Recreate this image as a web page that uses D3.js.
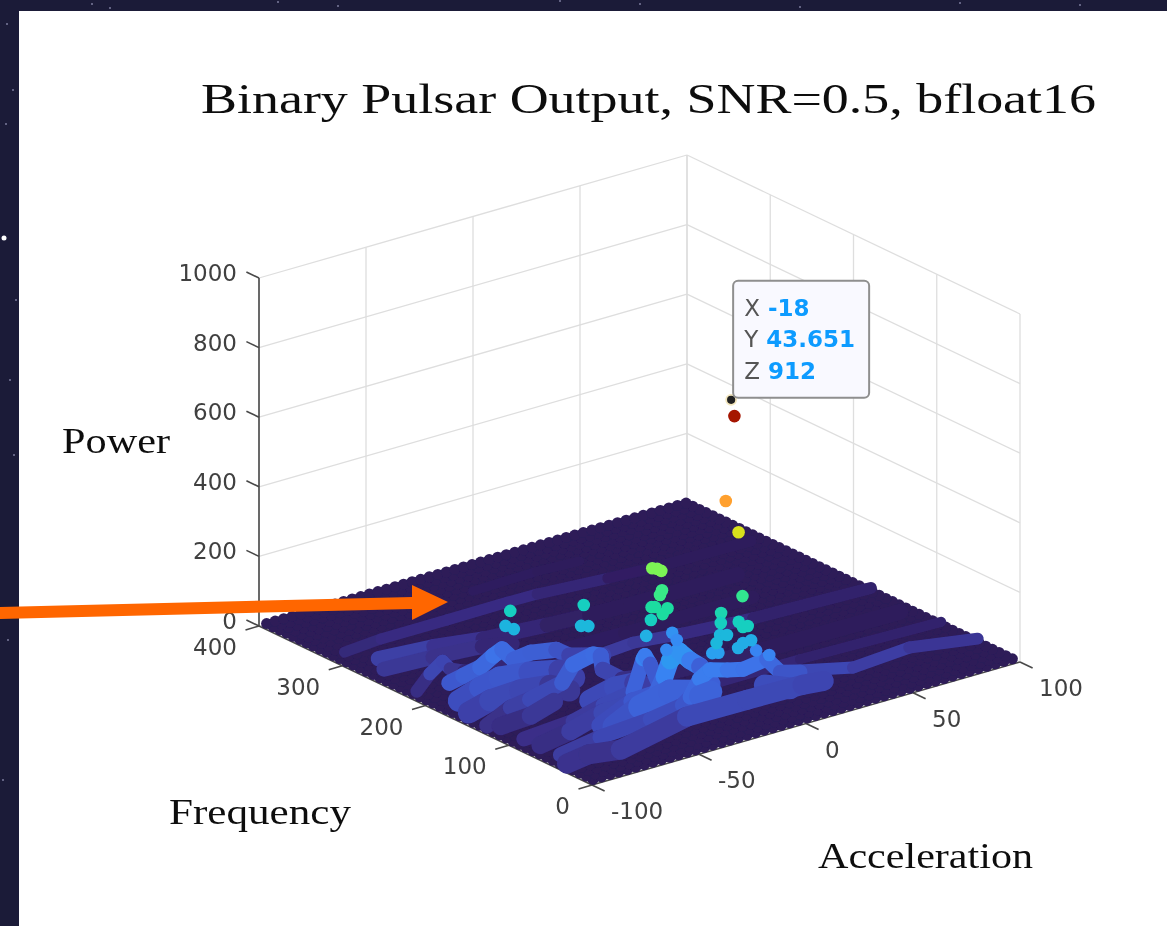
<!DOCTYPE html>
<html>
<head>
<meta charset="utf-8">
<script src="https://cdn.jsdelivr.net/npm/d3@7"></script>
<style>
  html, body { margin: 0; padding: 0; background: #fff; }
  svg { display: block; }
  .title { font-family: "Liberation Serif", serif; fill: #111; }
  .tick { font-family: "DejaVu Sans", sans-serif; font-size: 23px; fill: #404040; }
  .tip { font-family: "DejaVu Sans", sans-serif; font-size: 23px; }
</style>
</head>
<body>
<svg id="chart" width="1167" height="926"></svg>
<script>
const powerTicks = [0, 200, 400, 600, 800, 1000]
const freqTicks = [0, 100, 200, 300, 400]
const accelTicks = [-100, -50, 0, 50, 100]

// the sheet of points that sits near zero power
const floorAccel = [-98, -94, -90, -86, -82, -78, -74, -70, -66, -62, -58, -54, -50, -46, -42, -38, -34, -30, -26, -22, -18, -14, -10, -6, -2, 2, 6, 10, 14, 18, 22, 26, 30, 34, 38, 42, 46, 50, 54, 58, 62, 66, 70, 74, 78, 82, 86, 90, 94, 98]
const floorFreq = [4, 12, 20, 28, 36, 44, 52, 60, 68, 76, 84, 92, 100, 108, 116, 124, 132, 140, 148, 156, 164, 172, 180, 188, 196, 204, 212, 220, 228, 236, 244, 252, 260, 268, 276, 284, 292, 300, 308, 316, 324, 332, 340, 348, 356, 364, 372, 380, 388, 396]
const floorPower = 8

// ridges of constant frequency, back to front
const ridgeFreq = [349, 305, 262, 250, 218, 174, 174, 160, 148, 131, 120, 105, 87, 87, 75, 62, 50, 38, 38, 34, 34, 30]
const ridgeAccel = [
  [-20, 10, 30],
  [-97, -80, -49, -21, -7, 26, 50, 93],
  [-98, -72, -49, -19, 1, 20, 70],
  [-100, -77, -54, -40],
  [-97, -91, -85, -81.5, -75, -50, 0, 60],
  [-27, -13, 10, 43, 98],
  [-99, -92.5, -84.6, -78.5, -74.3, -69, -61, -49, -43, -27],
  [-100, -90, -81, -67, -53, -46],
  [-100, -90, -76, -62, -53],
  [-98, -87, -78, -63, -58, -48.6, -45, -44, -35, -20, 30, 95],
  [-96, -82, -71],
  [-60, -48.4, -39, -30],
  [-16, 31, 97],
  [-98, -75, -61, -47, -42.3, -41.4, -39, -34, -16],
  [-95, -81, -66, -53, -40],
  [-72, -57, -45.5, -42, -39.4, -35, -30, -25.4, -20],
  [-70, -58, -44, -32.4],
  [12, 36.7, 63, 95],
  [-100, -81.5, -58, -43, -39.4, -35, -30, -22, -14.5, -3.6, 2.7, 12],
  [-36.3, -31],
  [-6, 5.7],
  [-100, -90, -75, -44, -16, 10, 20]
]
const ridgePower = [
  [14, 18, 12],
  [28, 36, 36, 37, 36, 23, 15, 12],
  [66, 55, 36, 23, 17, 13, 11],
  [53, 47, 37, 20],
  [18, 57, 83, 55, 37, 20, 14, 11],
  [52, 58, 43, 29, 19],
  [100, 109, 119, 142, 153, 114, 120, 107, 80, 52],
  [75, 95, 108, 98, 79, 46],
  [55, 72, 76, 65, 35],
  [25, 57, 65, 86, 129, 142, 132, 90, 46, 30, 14, 11],
  [35, 40, 61],
  [68, 85, 80, 40],
  [30, 29, 20],
  [35, 45, 67, 80, 167, 175, 146, 66, 30],
  [30, 45, 72, 74, 60],
  [60, 103, 106, 148, 190, 208, 173, 148, 89],
  [76, 112, 131, 110],
  [89, 54, 65, 34],
  [49, 67, 77, 91, 108, 152, 170, 155, 144, 154, 105, 89],
  [120, 123],
  [97, 68],
  [40, 49, 36, 76, 75, 72, 66]
]
// line weight of each ridge, how many neighbouring bins it stands for
const ridgeWeight = [9, 11, 15, 15, 13, 12, 16, 22, 22, 16, 18, 22, 10, 15, 18, 18, 24, 12, 15, 22, 22, 20]

// isolated strong detections above the ridges
const peakAccel = [-15, -7, -17, -35, -34, -34, -35, -38.5, -42, -41, -38, -43, -41.5, -42, -24, -25, -34, -13, -21, -23, -22, -20, -28, -29, -27, -17, -17, -19, -13, -17, -21.5, -6, -5, -77, -78, -77.5, -52, -57, -55]
const peakFreq = [57.8, 63, 42.3, 94.7, 91.3, 86.4, 83, 76.4, 77.5, 76.2, 68.7, 61.6, 79.6, 84, 99, 91, 80.3, 42.9, 48, 43.2, 46.6, 43.5, 35.5, 38, 35.8, 37.1, 26.3, 27, 32.5, 31.9, 26.3, 44.5, 31.3, 157.3, 160.5, 151.7, 133.3, 123.6, 120]
const peakPower = [600, 490, 865, 400, 400, 400, 350, 350, 320, 320, 320, 320, 280, 230, 190, 180, 180, 340, 300, 280, 240, 240, 240, 210, 210, 280, 280, 280, 225, 225, 225, 170, 170, 280, 235, 235, 280, 240, 240]

const selectedAccel = -18
const selectedFreq = 43.651
const selectedPower = 912

const colorStops = [0, 15, 40, 70, 110, 150, 175, 210, 240, 280, 320, 350, 400, 490, 600, 865, 912]
const colorRange = ['#2c1a55', '#2e1c5c', '#3a2f88', '#3d46b2', '#3e5cd2', '#3c74ea', '#3888f4', '#2aa0f0', '#1cb8dc', '#17cfc0', '#1fdca0', '#38ea88', '#7cf455', '#d8e01f', '#ffa02e', '#a51200', '#222222']

const titleText = 'Binary Pulsar Output, SNR=0.5, bfloat16'

// faint stars of the slide background behind the white panel
const starX = [92, 110, 278, 338, 560, 640, 800, 960, 1080, 7, 13, 6, 16, 4, 10, 14, 8, 3]
const starY = [4, 8, 2, 6, 1, 4, 7, 3, 5, 24, 90, 124, 300, 238, 380, 455, 640, 780]

/** Orthographic view of the box: each data axis adds its own screen offset */
const originX = 592
const originY = 785
const accelToX = d3.scaleLinear([-100, 100], [0, 428])
const accelToY = d3.scaleLinear([-100, 100], [0, -123])
const freqToX = d3.scaleLinear([0, 400], [0, -333])
const freqToY = d3.scaleLinear([0, 400], [0, -159])
const powerToY = d3.scaleLinear([0, 1000], [0, -348])
const color = d3.scaleLinear().domain(colorStops).range(colorRange)

const px = (a, f) => originX + accelToX(a) + freqToX(f)
const py = (a, f, z) => originY + accelToY(a) + freqToY(f) + powerToY(z)

const svg = d3.select('#chart')

svg.append('rect').attr('width', 1167).attr('height', 926).attr('fill', '#1b1b38')
svg.selectAll('circle.star').data(starX).enter().append('circle')
  .attr('class', 'star')
  .attr('cx', d => d)
  .attr('cy', (d, i) => starY[i])
  .attr('r', (d, i) => starY[i] === 238 ? 2.5 : 1)
  .attr('fill', (d, i) => starY[i] === 238 ? '#fff' : '#7d7d9c')
svg.append('rect').attr('x', 19).attr('y', 11).attr('width', 1148).attr('height', 915).attr('fill', '#fff')

const defs = svg.append('defs')
defs.append('filter').attr('id', 'soft').attr('x', 0).attr('y', 0).attr('width', 1).attr('height', 1)
  .attr('filterUnits', 'objectBoundingBox')
  .append('feGaussianBlur').attr('stdDeviation', 0.55)

const g = svg.append('g').attr('filter', 'url(#soft)')

/* Back walls */
const grid = g.append('g').attr('stroke', '#dedede').attr('stroke-width', 1.3).attr('fill', 'none')
const wallLine = (a1, f1, z1, a2, f2, z2) => grid.append('line')
  .attr('x1', px(a1, f1)).attr('y1', py(a1, f1, z1))
  .attr('x2', px(a2, f2)).attr('y2', py(a2, f2, z2))
powerTicks.forEach(z => {
  wallLine(-100, 400, z, 100, 400, z)
  wallLine(100, 400, z, 100, 0, z)
})
accelTicks.forEach(a => wallLine(a, 400, 0, a, 400, 1000))
freqTicks.forEach(f => wallLine(100, f, 0, 100, f, 1000))

/* Axis lines and ticks */
const axes = g.append('g').attr('stroke', '#484848').attr('stroke-width', 1.6).attr('fill', 'none')
const axisLine = (x1, y1, x2, y2) => axes.append('line').attr('x1', x1).attr('y1', y1).attr('x2', x2).attr('y2', y2)
axisLine(px(-100, 400), py(-100, 400, 0), px(-100, 400), py(-100, 400, 1000))
axisLine(px(-100, 400), py(-100, 400, 0), px(-100, 0), py(-100, 0, 0))
axisLine(px(-100, 0), py(-100, 0, 0), px(100, 0), py(100, 0, 0))

powerTicks.forEach(z => {
  const x = px(-100, 400)
  const y = py(-100, 400, z)
  axisLine(x, y, x - 12.6, y - 6)
  g.append('text').attr('class', 'tick').attr('x', x - 22).attr('y', y + 3).attr('text-anchor', 'end').text(z)
})
freqTicks.forEach(f => {
  const x = px(-100, f)
  const y = py(-100, f, 0)
  axisLine(x, y, x - 13.5, y + 3.9)
  g.append('text').attr('class', 'tick').attr('x', x - 22).attr('y', y + 29).attr('text-anchor', 'end').text(f)
})
accelTicks.forEach(a => {
  const x = px(a, 0)
  const y = py(a, 0, 0)
  axisLine(x, y, x + 12.6, y + 6)
  g.append('text').attr('class', 'tick').attr('x', x + 19).attr('y', y + 34).text(a)
})

/* Floor sheet */
const floorColor = color(floorPower)
const sheet = g.append('g')
const fMin = d3.min(floorFreq)
const fMax = d3.max(floorFreq)
const aMin = d3.min(floorAccel)
const aMax = d3.max(floorAccel)
sheet.append('polygon').attr('fill', floorColor)
  .attr('stroke', floorColor).attr('stroke-width', 7).attr('stroke-linejoin', 'round')
  .attr('points', [[aMin, fMin], [aMax, fMin], [aMax, fMax], [aMin, fMax]]
    .map(c => px(c[0], c[1]) + ',' + py(c[0], c[1], floorPower)).join(' '))
floorFreq.forEach(f => {
  sheet.append('g').selectAll('circle').data(floorAccel).enter().append('circle')
    .attr('cx', a => px(a, f))
    .attr('cy', a => py(a, f, floorPower))
    .attr('r', 5.5)
    .attr('fill', floorColor)
})

/* Ridges: neighbouring points joined, so that they read as a run of touching dots.
   A heavy ridge grows towards the viewer, its top edge stays where the dots are */
const ridges = g.append('g').attr('stroke-linecap', 'round')
ridgeFreq.forEach((f, i) => {
  const accel = ridgeAccel[i]
  const power = ridgePower[i]
  const weight = ridgeWeight[i]
  const row = ridges.append('g').attr('transform', `translate(0,${(weight - 11) / 2})`)
  d3.pairs(d3.range(accel.length)).forEach(([p, q]) => {
    row.append('line')
      .attr('x1', px(accel[p], f)).attr('y1', py(accel[p], f, power[p]))
      .attr('x2', px(accel[q], f)).attr('y2', py(accel[q], f, power[q]))
      .attr('stroke', color((power[p] + power[q]) / 2))
      .attr('stroke-width', weight)
  })
})

/* Strong peaks, far ones first */
const peakOrder = d3.range(peakAccel.length).sort((p, q) => peakFreq[q] - peakFreq[p])
g.append('g').selectAll('circle').data(peakOrder).enter().append('circle')
  .attr('cx', i => px(peakAccel[i], peakFreq[i]))
  .attr('cy', i => py(peakAccel[i], peakFreq[i], peakPower[i]))
  .attr('r', 6.3)
  .attr('fill', i => color(peakPower[i]))

/* Selected point with its data tip */
const tipX = px(selectedAccel, selectedFreq)
const tipY = py(selectedAccel, selectedFreq, selectedPower)
g.append('circle').attr('cx', tipX).attr('cy', tipY).attr('r', 5)
  .attr('fill', '#222').attr('stroke', '#f3e6bd').attr('stroke-width', 1.8)
const tip = g.append('g').attr('transform', `translate(${tipX + 2},${tipY - 119})`)
tip.append('rect').attr('width', 136).attr('height', 117).attr('rx', 5)
  .attr('fill', '#f9f9ff').attr('stroke', '#8f8f8f').attr('stroke-width', 2)
const tipRows = [['X', selectedAccel], ['Y', selectedFreq], ['Z', selectedPower]]
tipRows.forEach(([name, value], i) => {
  const row = tip.append('text').attr('class', 'tip').attr('x', 11).attr('y', 35 + i * 31.5)
  row.append('tspan').attr('fill', '#555').text(name)
  row.append('tspan').attr('dx', 8).attr('fill', '#0b9bff').attr('font-weight', 'bold').text(value)
})

/* Titles */
const label = (text, x, y, size, width) => g.append('text').attr('class', 'title')
  .attr('x', x).attr('y', y).attr('font-size', size)
  .attr('textLength', width).attr('lengthAdjust', 'spacingAndGlyphs').text(text)
label(titleText, 201, 113, 43, 895)
label('Power', 62, 453, 36, 108)
label('Frequency', 169, 824, 36, 182)
label('Acceleration', 818, 868, 36, 215)

/* Orange arrow of the slide */
svg.append('polygon').attr('fill', '#ff6600')
  .attr('points', '0,607 412,597 412,585 448,602 412,620 412,609 0,619')
</script>
</body>
</html>
